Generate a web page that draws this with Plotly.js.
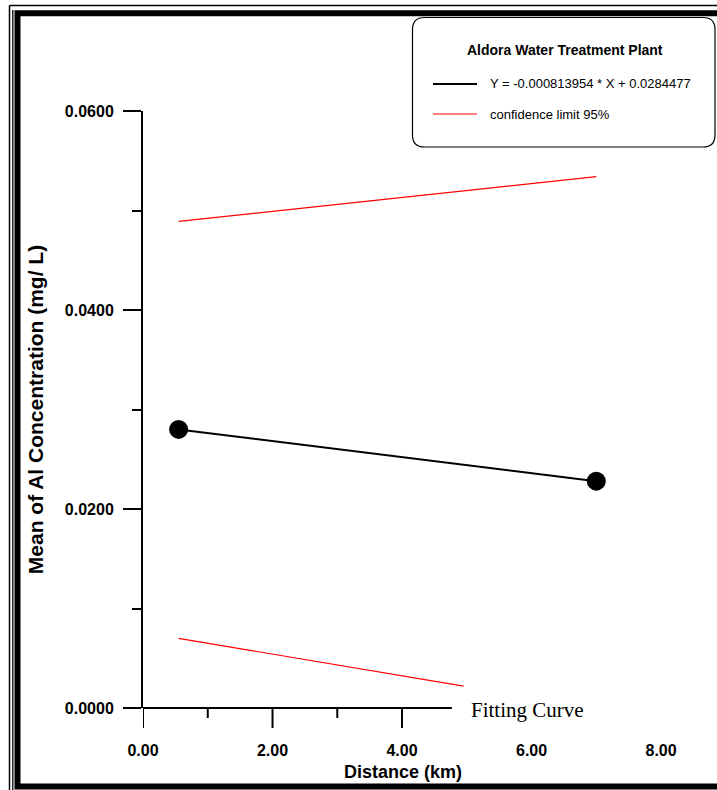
<!DOCTYPE html>
<html>
<head>
<meta charset="utf-8">
<script src="https://cdn.plot.ly/plotly-3.0.1.min.js"></script>
<style>html,body{margin:0;padding:0;background:#fff;}#chart{width:717px;height:790px;}</style>
</head>
<body>
<div id="chart"></div>
<script>
// ---- data ----
const distanceKm = [0.55, 7.0];
const meanAl = [0.0280, 0.0228];
const upperX = [0.55, 7.0];
const upperY = [0.0489, 0.0534];
const lowerX = [0.55, 4.95];
const lowerY = [0.0070, 0.0022];
const xTickVals = [0, 2, 4, 6, 8];
const xTickText = ["0.00", "2.00", "4.00", "6.00", "8.00"];
const yTickVals = [0, 0.02, 0.04, 0.06];
const yTickText = ["0.0000", "0.0200", "0.0400", "0.0600"];
const yMinorVals = [0.01, 0.03, 0.05];
const legendTitle = "Aldora Water Treatment Plant";
const fitName = "Y = -0.000813954 * X + 0.0284477";
const ciName = "confidence limit 95%";

// ---- layout geometry (pixels) ----
const W = 717, H = 790;
const L = 143, R = 54, T = 111, B = 82;
const PW = W - L - R, PH = H - T - B;
const px = x => (x - L) / PW;
const py = y => (H - B - y) / PH;
const SANS = "Liberation Sans, Arial, sans-serif";

const traces = [
  {x: upperX, y: upperY, mode: "lines", line: {color: "#ff0000", width: 1.2}, name: ciName, showlegend: false, hoverinfo: "skip"},
  {x: lowerX, y: lowerY, mode: "lines", line: {color: "#ff0000", width: 1.2}, name: ciName, showlegend: false, hoverinfo: "skip"},
  {x: distanceKm, y: meanAl, mode: "lines+markers", line: {color: "#000", width: 2},
   marker: {color: "#000", size: 19, symbol: "circle"}, name: fitName, showlegend: false, cliponaxis: false}
];

const shapes = [];
// x-axis line and ticks (drawn as shapes: the axis line stops before 5)
shapes.push({type: "line", xref: "x", yref: "paper", x0: 0, x1: 4.77, y0: 0, y1: 0, line: {color: "#000", width: 2}});
[0, 2, 4].forEach(v => shapes.push({type: "line", xref: "x", yref: "paper",
  x0: v, x1: v, y0: 0, y1: -20 / PH, line: {color: "#000", width: 2}}));
[1, 3].forEach(v => shapes.push({type: "line", xref: "x", yref: "paper",
  x0: v, x1: v, y0: 0, y1: -10 / PH, line: {color: "#000", width: 2}}));

// page frame
shapes.push({type: "line", xref: "paper", yref: "paper", x0: px(9.5), x1: px(9.5), y0: py(5.5), y1: py(H+20), line: {color: "#000", width: 1.5}});
shapes.push({type: "line", xref: "paper", yref: "paper", x0: px(9.5), x1: px(W+20), y0: py(5.5), y1: py(5.5), line: {color: "#000", width: 1.5}});
shapes.push({type: "line", xref: "paper", yref: "paper", x0: px(12.8), x1: px(12.8), y0: py(10), y1: py(H+20), line: {color: "#000", width: 1.3}});
shapes.push({type: "rect", xref: "paper", yref: "paper", x0: px(17.5), x1: px(W+30), y0: py(13.3), y1: py(786.5),
  line: {color: "#000", width: 6}, fillcolor: "rgba(0,0,0,0)"});

// rounded legend box
const bx0 = 412.5, bx1 = 715, by0 = 17.5, by1 = 147, rr = 12;
const P = (x, y) => px(x) + "," + py(y);
shapes.push({type: "path", xref: "paper", yref: "paper", line: {color: "#000", width: 1.2}, fillcolor: "#fff",
  path: "M" + P(bx0 + rr, by0) + " L" + P(bx1 - rr, by0) + " Q" + P(bx1, by0) + " " + P(bx1, by0 + rr) +
        " L" + P(bx1, by1 - rr) + " Q" + P(bx1, by1) + " " + P(bx1 - rr, by1) +
        " L" + P(bx0 + rr, by1) + " Q" + P(bx0, by1) + " " + P(bx0, by1 - rr) +
        " L" + P(bx0, by0 + rr) + " Q" + P(bx0, by0) + " " + P(bx0 + rr, by0) + " Z"});
shapes.push({type: "line", xref: "paper", yref: "paper", x0: px(433), x1: px(477), y0: py(84), y1: py(84), line: {color: "#000", width: 2}});
shapes.push({type: "line", xref: "paper", yref: "paper", x0: px(433), x1: px(477), y0: py(114), y1: py(114), line: {color: "#ff0000", width: 1}});

const annotations = [
  {xref: "paper", yref: "paper", x: px(565), y: py(50), xanchor: "center", yanchor: "middle", showarrow: false,
   text: "<b>" + legendTitle + "</b>", font: {family: SANS, size: 14, color: "#000"}},
  {xref: "paper", yref: "paper", x: px(488), y: py(84), xanchor: "left", yanchor: "middle", showarrow: false,
   text: fitName, font: {family: SANS, size: 13, color: "#000"}},
  {xref: "paper", yref: "paper", x: px(488), y: py(114), xanchor: "left", yanchor: "middle", showarrow: false,
   text: ciName, font: {family: SANS, size: 13, color: "#000"}},
  {xref: "x", yref: "y", x: 5.03, y: 0, xanchor: "left", yanchor: "middle", yshift: -2, showarrow: false,
   text: "Fitting Curve", font: {family: "Liberation Serif, Times New Roman, serif", size: 21, color: "#000"}}
];

const layout = {
  width: W, height: H,
  margin: {l: L, r: R, t: T, b: B, pad: 0},
  paper_bgcolor: "#fff", plot_bgcolor: "rgba(0,0,0,0)",
  showlegend: false,
  xaxis: {
    range: [0, 8.03], showline: false, showgrid: false, zeroline: false,
    tickmode: "array", tickvals: xTickVals, ticktext: xTickText,
    ticks: "outside", ticklen: 20, tickcolor: "rgba(0,0,0,0)", ticklabelstandoff: 8,
    tickfont: {family: SANS, size: 16, color: "#000", weight: "bold"},
    title: {text: "<b>Distance (km)</b>", standoff: 7, font: {family: SANS, size: 18, color: "#000"}},
    automargin: false, fixedrange: true
  },
  yaxis: {
    range: [0, 0.06], showline: true, linecolor: "#000", linewidth: 2, mirror: false,
    showgrid: false, zeroline: false,
    tickmode: "array", tickvals: yTickVals, ticktext: yTickText,
    ticks: "outside", ticklen: 18, tickwidth: 2, tickcolor: "#000", ticklabelstandoff: 6,
    minor: {tickvals: yMinorVals, ticks: "outside", ticklen: 9, tickwidth: 2, tickcolor: "#000", showgrid: false},
    tickfont: {family: SANS, size: 16, color: "#000", weight: "bold"},
    title: {text: "<b>Mean of Al Concentration (mg/ L)</b>", standoff: 16, font: {family: SANS, size: 21, color: "#000"}},
    automargin: false, fixedrange: true
  },
  shapes: shapes,
  annotations: annotations
};

Plotly.newPlot("chart", traces, layout, {displayModeBar: false, staticPlot: true});
</script>
</body>
</html>
